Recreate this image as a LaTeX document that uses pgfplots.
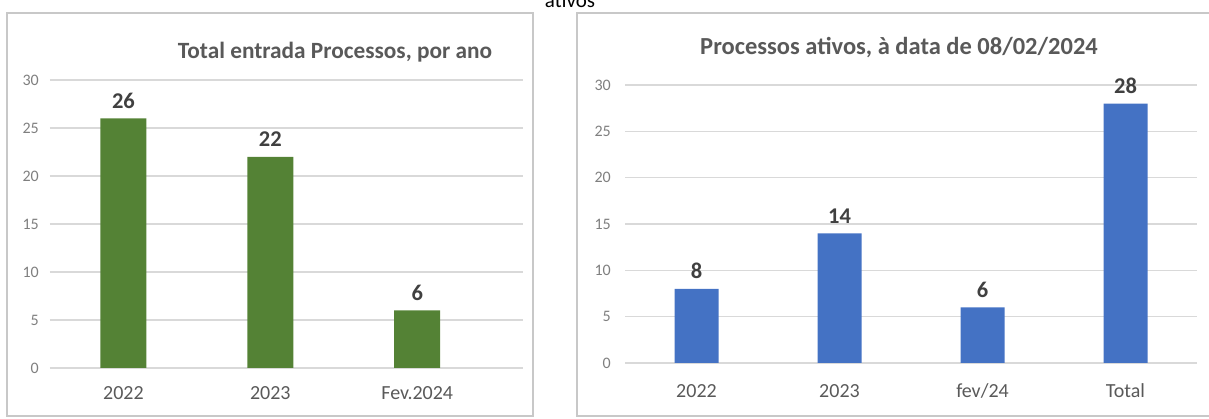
\documentclass[border=0pt]{standalone}
\usepackage{pgfplots}
\pgfplotsset{compat=1.18}
\usepackage{fontspec}
\setmainfont{Carlito}
\definecolor{barGreen}{HTML}{548235}
\definecolor{barBlue}{HTML}{4472C4}
\definecolor{txtGray}{HTML}{595959}
\definecolor{tickGray}{HTML}{7F7F7F}
\definecolor{lblGray}{HTML}{404040}
\definecolor{gridGray}{HTML}{D9D9D9}
\definecolor{frameGray}{HTML}{C8C8C8}
\pgfplotsset{
  panel/.style={
    scale only axis,
    ybar,
    ymin=0, ymax=30,
    ytick={0,5,...,30},
    xtick=data,
    ymajorgrids,
    grid style={gridGray, line width=1.1pt},
    axis line style={draw=none},
    major tick length=0pt,
    tick style={draw=none},
    yticklabel style={font=\fontsize{16}{18}\selectfont, text=tickGray, anchor=east, inner sep=0pt},
    xticklabel style={font=\fontsize{20}{22}\selectfont, text=txtGray, anchor=base, inner sep=0pt},
    nodes near coords,
    nodes near coords style={font=\fontsize{22.5}{24}\selectfont\bfseries, text=lblGray, anchor=south, inner sep=0pt, yshift=10pt},
    /pgf/number format/assume math mode=true,
    clip=false,
  }
}
\begin{document}
\begin{tikzpicture}
\useasboundingbox (0pt,0pt) rectangle (1209pt,419pt);
% frames
\draw[frameGray, line width=1.3pt] (7pt,3pt) rectangle (533pt,406pt);
\draw[frameGray, line width=1.3pt] (1209pt,406pt) -- (577pt,406pt) -- (577pt,3pt) -- (1209pt,3pt);
% cut caption at top
\node[anchor=base, inner sep=0pt, font=\fontsize{21}{24}\selectfont, text=black] at (570pt,411pt) {ativos};
% left chart
\begin{axis}[panel,
  at={(50pt,51pt)}, anchor=south west,
  width=473pt, height=288pt,
  xmin=-0.5, xmax=2.72,
  bar width=46pt,
  xticklabels={2022,2023,Fev.2024},
  yticklabel style={xshift=-11pt},
  xticklabel style={yshift=-32pt},
]
\addplot[fill=barGreen, draw=none] coordinates {(0,26) (1,22) (2,6)};
\end{axis}
\node[font=\fontsize{23.3}{26}\selectfont\bfseries, text=txtGray, inner sep=0pt] at (335pt,367pt) {Total entrada Processos, por ano};
% right chart
\begin{axis}[panel,
  at={(625pt,56pt)}, anchor=south west,
  width=572pt, height=278pt,
  xmin=-0.5, xmax=3.5,
  bar width=44pt,
  xticklabels={2022,2023,fev/24,Total},
  yticklabel style={xshift=-14pt},
  xticklabel style={yshift=-35pt},
]
\addplot[fill=barBlue, draw=none] coordinates {(0,8) (1,14) (2,6) (3,28)};
\end{axis}
\node[font=\fontsize{24.5}{27}\selectfont\bfseries, text=txtGray, inner sep=0pt] at (899pt,371pt) {Processos ativos, à data de 08/02/2024};
\end{tikzpicture}
\end{document}
